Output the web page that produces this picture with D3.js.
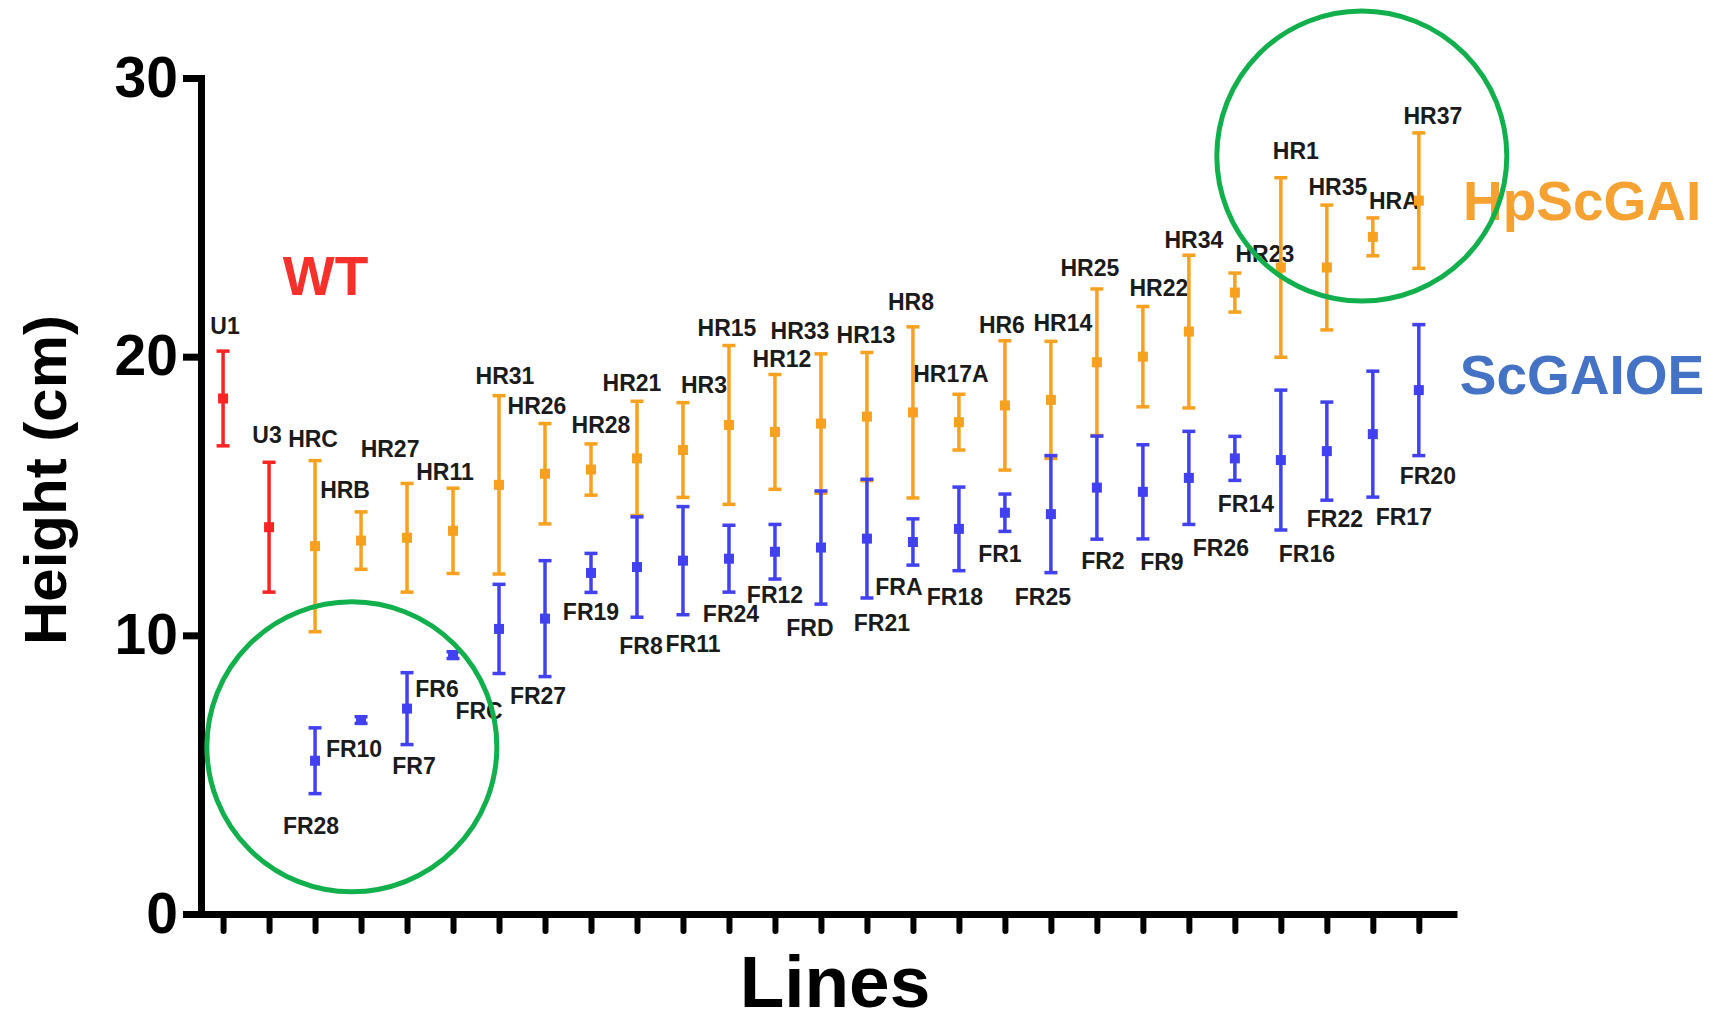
<!DOCTYPE html>
<html>
<head>
<meta charset="utf-8">
<script src="https://cdn.jsdelivr.net/npm/d3@7"></script>
<style>
  body { margin: 0; background: #fff; }
  svg { display: block; }
  text { font-family: "Liberation Sans", Arial, sans-serif; font-weight: bold; }
</style>
</head>
<body>
<svg id="chart" width="1719" height="1023"></svg>
<script>
// ---- data -------------------------------------------------------------
const slots = d3.range(1, 28);          // one tick per line position
const yTicks = [0, 10, 20, 30];

// wild type
const wtNames = ["U1", "U3"];
const wtSlots = [1, 2];
const wtMeans = [18.5, 13.88];
const wtErr   = [1.7, 2.33];

// HpScGAI lines
const hrNames = ["HRC","HRB","HR27","HR11","HR31","HR26","HR28","HR21","HR3","HR15",
                 "HR12","HR33","HR13","HR8","HR17A","HR6","HR14","HR25","HR22","HR34",
                 "HR23","HR1","HR35","HRA","HR37"];
const hrSlots = d3.range(3, 28);
const hrMeans = [13.2, 13.4, 13.5, 13.75, 15.4, 15.8, 15.95, 16.35, 16.65, 17.55,
                 17.3, 17.6, 17.85, 18.0, 17.65, 18.25, 18.45, 19.8, 20.0, 20.9,
                 22.3, 23.2, 23.2, 24.3, 25.6];
const hrErr   = [3.07, 1.03, 1.95, 1.53, 3.2, 1.8, 0.92, 2.05, 1.7, 2.85,
                 2.06, 2.5, 2.3, 3.07, 1.0, 2.32, 2.1, 2.63, 1.8, 2.74,
                 0.7, 3.22, 2.24, 0.68, 2.43];

// ScGAIOE lines
const frNames = ["FR28","FR10","FR7","FR6","FRC","FR27","FR19","FR8","FR11","FR24",
                 "FR12","FRD","FR21","FRA","FR18","FR1","FR25","FR2","FR9","FR26",
                 "FR14","FR16","FR22","FR17","FR20"];
const frSlots = d3.range(3, 28);
const frMeans = [5.5, 6.96, 7.37, 9.29, 10.23, 10.6, 12.24, 12.45, 12.68, 12.75,
                 13.0, 13.15, 13.47, 13.35, 13.82, 14.4, 14.35, 15.3, 15.15, 15.65,
                 16.35, 16.29, 16.61, 17.22, 18.8];
const frErr   = [1.18, 0.12, 1.29, 0.12, 1.6, 2.08, 0.7, 1.8, 1.94, 1.2,
                 0.98, 2.03, 2.13, 0.83, 1.5, 0.67, 2.1, 1.85, 1.69, 1.67,
                 0.79, 2.51, 1.76, 2.26, 2.35];

// ---- layout -----------------------------------------------------------
// label nudges in px: [dx, dy] from the top cap (WT / HR) or bottom cap (FR)
const labelNudge = {
  U1:[2,-17], U3:[-2,-19],
  HRC:[-2,-14], HRB:[-16,-14], HR27:[-17,-26], HR11:[-8,-8], HR31:[6,-12],
  HR26:[-8,-10], HR28:[10,-11], HR21:[-5,-10], HR3:[21,-10], HR15:[-2,-10],
  HR12:[7,-8], HR33:[-21,-15], HR13:[-1,-9], HR8:[-2,-17], HR17A:[-8,-12],
  HR6:[-3,-8], HR14:[12,-10], HR25:[-7,-13], HR22:[16,-11], HR34:[5,-7],
  HR23:[30,-11], HR1:[15,-19], HR35:[11,-10], HRA:[21,-9], HR37:[14,-9],
  FR28:[-4,40], FR10:[-7,34], FR7:[7,29], FR6:[-16,39], FRC:[-20,45],
  FR27:[-7,27], FR19:[0,28], FR8:[4,37], FR11:[10,37], FR24:[2,30],
  FR12:[0,24], FRD:[-11,32], FR21:[15,33], FRA:[-14,30], FR18:[-4,34],
  FR1:[-5,31], FR25:[-8,32], FR2:[6,30], FR9:[19,31], FR26:[32,32],
  FR14:[11,32], FR16:[26,32], FR22:[8,27], FR17:[31,28], FR20:[9,28]
};

const svg = d3.select("#chart");

const x = d3.scaleLinear().domain([0.52, 27.83]).range([201, 1457]);
const y = d3.scaleLinear().domain([0, 30]).range([914, 78]);

// ---- axes -------------------------------------------------------------
const yAxis = svg.append("g")
  .attr("transform", `translate(${x(0.52)},0)`)
  .call(d3.axisLeft(y).tickValues(yTicks).tickSize(18).tickSizeOuter(0).tickPadding(5));
yAxis.select(".domain").attr("stroke", "#000").attr("stroke-width", 7).attr("stroke-linecap", "square");
yAxis.selectAll(".tick line").attr("stroke", "#000").attr("stroke-width", 7);
yAxis.selectAll(".tick text")
  .attr("fill", "#000")
  .style("font-size", "57px")
  .style("font-family", '"Liberation Sans", Arial, sans-serif')
  .style("font-weight", "bold");

const xAxis = svg.append("g")
  .attr("transform", `translate(0,${y(0)})`)
  .call(d3.axisBottom(x).tickValues(slots).tickSize(17).tickSizeOuter(0).tickFormat(""));
xAxis.select(".domain").attr("stroke", "#000").attr("stroke-width", 7);
xAxis.selectAll(".tick line").attr("stroke", "#000").attr("stroke-width", 6).attr("stroke-linecap", "round");

// axis titles
svg.append("text")
  .attr("transform", "translate(66,480) rotate(-90)")
  .attr("text-anchor", "middle")
  .style("font-size", "60px")
  .attr("fill", "#000")
  .text("Height (cm)");

svg.append("text")
  .attr("x", 835).attr("y", 1007)
  .attr("text-anchor", "middle")
  .style("font-size", "73px")
  .attr("fill", "#000")
  .text("Lines");

// ---- error bars -------------------------------------------------------
const CAP = 13, SQ = 10;

function drawSeries(names, slotArr, means, errs, color, labelBelow) {
  const rows = names.map((n, i) => ({ name: n, slot: slotArr[i], mean: means[i], err: errs[i] }));
  const g = svg.append("g");
  const pt = g.selectAll("g.pt").data(rows).join("g").attr("class", "pt");

  pt.append("line")
    .attr("x1", d => x(d.slot)).attr("x2", d => x(d.slot))
    .attr("y1", d => y(d.mean - d.err)).attr("y2", d => y(d.mean + d.err))
    .attr("stroke", color).attr("stroke-width", 3.5);

  [1, -1].forEach(s => {
    pt.append("line")
      .attr("x1", d => x(d.slot) - CAP / 2).attr("x2", d => x(d.slot) + CAP / 2)
      .attr("y1", d => y(d.mean + s * d.err)).attr("y2", d => y(d.mean + s * d.err))
      .attr("stroke", color).attr("stroke-width", 3.5);
  });

  pt.append("rect")
    .attr("x", d => x(d.slot) - SQ / 2).attr("y", d => y(d.mean) - SQ / 2)
    .attr("width", SQ).attr("height", SQ)
    .attr("fill", color);

  pt.append("text")
    .attr("x", d => x(d.slot) + labelNudge[d.name][0])
    .attr("y", d => y(labelBelow ? d.mean - d.err : d.mean + d.err) + labelNudge[d.name][1])
    .attr("text-anchor", "middle")
    .style("font-size", "23px")
    .attr("fill", "#1b1b1b")
    .text(d => d.name);
}

drawSeries(hrNames, hrSlots, hrMeans, hrErr, "#f8a11f", false);
drawSeries(frNames, frSlots, frMeans, frErr, "#4141f2", true);
drawSeries(wtNames, wtSlots, wtMeans, wtErr, "#fa2424", false);

// ---- group names ------------------------------------------------------
const groupText = [
  { text: "WT",      slot: 2.30,  value: 22.2,  color: "#f7302c" },
  { text: "HpScGAI", slot: 27.96, value: 24.9,  color: "#f6a233" },
  { text: "ScGAIOE", slot: 27.89, value: 18.65, color: "#4472c4" }
];
svg.selectAll("text.group").data(groupText).join("text")
  .attr("class", "group")
  .attr("x", d => x(d.slot)).attr("y", d => y(d.value))
  .style("font-size", "55px")
  .attr("fill", d => d.color)
  .text(d => d.text);

// ---- highlight rings --------------------------------------------------
const rings = [
  { slot: 3.80,  value: 6.0 },
  { slot: 25.76, value: 27.2 }
];
svg.selectAll("ellipse.ring").data(rings).join("ellipse")
  .attr("class", "ring")
  .attr("cx", d => x(d.slot)).attr("cy", d => y(d.value))
  .attr("rx", 145).attr("ry", 145)
  .attr("fill", "none")
  .attr("stroke", "#12b04c")
  .attr("stroke-width", 5);
</script>
</body>
</html>
